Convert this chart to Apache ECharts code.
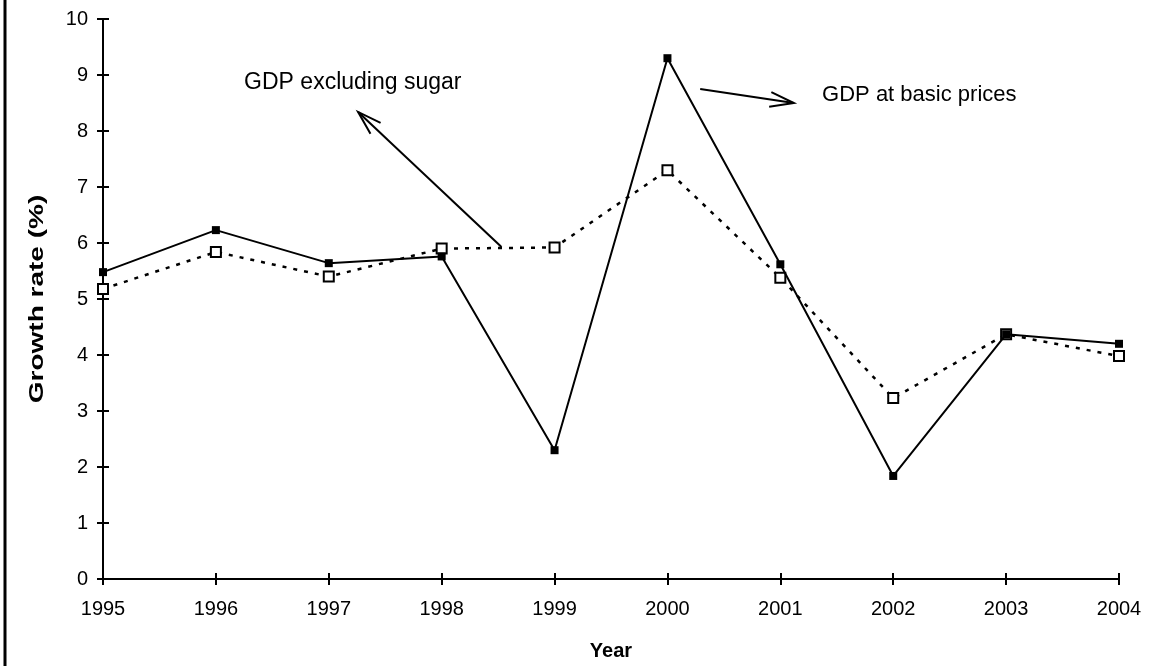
<!DOCTYPE html>
<html>
<head>
<meta charset="utf-8">
<script src="https://cdn.jsdelivr.net/npm/echarts@6/dist/echarts.min.js"></script>
<style>
  html, body { margin: 0; padding: 0; background: #fff; }
  #chart { width: 1151px; height: 666px; }
</style>
</head>
<body>
<div id="chart"></div>
<script>
// Annual growth rates, 1995-2004
const years = [1995, 1996, 1997, 1998, 1999, 2000, 2001, 2002, 2003, 2004];
const gdpBasicPrices = [5.48, 6.23, 5.64, 5.76, 2.30, 9.30, 5.62, 1.84, 4.37, 4.20];
const gdpExclSugar = [5.18, 5.84, 5.40, 5.90, 5.92, 7.30, 5.38, 3.23, 4.37, 3.98];
const yTicks = [0, 1, 2, 3, 4, 5, 6, 7, 8, 9, 10];

const FONT = '"Liberation Sans", Arial, sans-serif';

const chart = echarts.init(document.getElementById('chart'), null, { renderer: 'canvas' });

const toPairs = (vals) => years.map((y, i) => [y, vals[i]]);

const baseX = {
  type: 'value', min: years[0], max: years[years.length - 1], interval: 1,
  position: 'bottom',
  axisLine: { onZero: false, lineStyle: { color: '#000', width: 2 } },
  splitLine: { show: false }
};
const baseY = {
  type: 'value', min: yTicks[0], max: yTicks[yTicks.length - 1], interval: 1,
  position: 'left',
  axisLine: { show: true, onZero: false, lineStyle: { color: '#000', width: 2 } },
  splitLine: { show: false }
};

chart.setOption({
  animation: false,
  backgroundColor: '#fff',
  grid: { left: 103, right: 32, top: 19, bottom: 87 },
  xAxis: [
    Object.assign({}, baseX, {
      name: 'Year', nameLocation: 'middle', nameGap: 62,
      nameTextStyle: { fontFamily: FONT, fontSize: 20, fontWeight: 'bold', color: '#000' },
      axisTick: { show: true, length: 6, lineStyle: { color: '#000', width: 2 } },
      axisLabel: { fontFamily: FONT, fontSize: 20, color: '#000', margin: 20,
        formatter: (v) => String(v) }
    }),
    Object.assign({}, baseX, {
      axisTick: { show: true, inside: true, length: 6, lineStyle: { color: '#000', width: 2 } },
      axisLabel: { show: false }
    })
  ],
  yAxis: [
    Object.assign({}, baseY, {
      axisTick: { show: true, length: 6, lineStyle: { color: '#000', width: 2 } },
      axisLabel: { fontFamily: FONT, fontSize: 20, color: '#000', margin: 15 }
    }),
    Object.assign({}, baseY, {
      axisTick: { show: true, inside: true, length: 6, lineStyle: { color: '#000', width: 2 } },
      axisLabel: { show: false }
    })
  ],
  series: [
    {
      name: 'GDP excluding sugar', type: 'line', data: toPairs(gdpExclSugar),
      symbol: 'rect', symbolSize: 10,
      itemStyle: { color: '#fff', borderColor: '#000', borderWidth: 2 },
      lineStyle: { color: '#000', width: 2.5, type: [4, 7] },
      z: 2
    },
    {
      name: 'GDP at basic prices', type: 'line', data: toPairs(gdpBasicPrices),
      symbol: 'rect', symbolSize: 8,
      itemStyle: { color: '#000' },
      lineStyle: { color: '#000', width: 2 },
      z: 3
    }
  ]
});

// Callout labels with open-headed arrows, anchored in data space
const callouts = [
  { text: 'GDP excluding sugar', size: 23, textAt: [1996.25, 8.86], from: [1998.53, 5.93], to: [1997.26, 8.34] },
  { text: 'GDP at basic prices', size: 22, textAt: [2001.37, 8.64], from: [2000.29, 8.75], to: [2001.12, 8.5] }
];

const px = (p) => chart.convertToPixel({ gridIndex: 0 }, p);
const graphics = [];
callouts.forEach((c) => {
  const a = px(c.from), b = px(c.to), t = px(c.textAt);
  graphics.push({
    type: 'line', shape: { x1: a[0], y1: a[1], x2: b[0], y2: b[1] },
    style: { stroke: '#000', lineWidth: 2 }, z: 10
  });
  const ang = Math.atan2(b[1] - a[1], b[0] - a[0]);
  const len = 25, spread = 0.3;
  const h1 = [b[0] - len * Math.cos(ang - spread), b[1] - len * Math.sin(ang - spread)];
  const h2 = [b[0] - len * Math.cos(ang + spread), b[1] - len * Math.sin(ang + spread)];
  graphics.push({
    type: 'polyline', shape: { points: [h1, b, h2] },
    style: { stroke: '#000', lineWidth: 2, fill: null }, z: 10
  });
  graphics.push({
    type: 'text', x: t[0], y: t[1],
    style: { text: c.text, fontFamily: FONT, fontSize: c.size, fill: '#000', verticalAlign: 'middle', align: 'left' },
    z: 10
  });
});

// Vertical axis title, centred on the plot height and stretched along its run
const yMid = (px([years[0], yTicks[0]])[1] + px([years[0], yTicks[yTicks.length - 1]])[1]) / 2;
graphics.push({
  type: 'text', x: 37, y: yMid, rotation: Math.PI / 2, scaleX: 1.4,
  style: { text: 'Growth rate (%)', fontFamily: FONT, fontSize: 20, fontWeight: 'bold', fill: '#000',
    align: 'center', verticalAlign: 'middle' },
  z: 10
});

// Left frame edge
graphics.push({
  type: 'line', shape: { x1: 5, y1: 0, x2: 5, y2: 666 },
  style: { stroke: '#000', lineWidth: 3 }, z: 10
});

chart.setOption({ graphic: graphics });
</script>
</body>
</html>
